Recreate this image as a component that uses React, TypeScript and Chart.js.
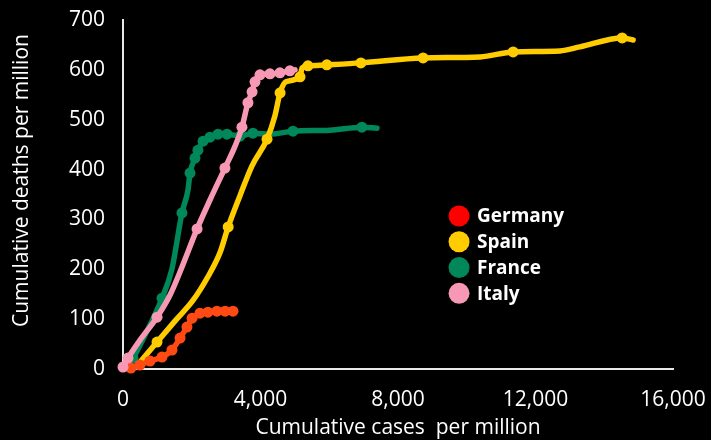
import React, { useEffect, useRef } from "react";
import { Chart, registerables } from "chart.js";

Chart.register(...registerables);

// ---- data (cumulative cases per million -> cumulative deaths per million) ----
const germanyCases = [230, 490, 785, 1135, 1425, 1660, 1860, 2010, 2240, 2470, 2730, 2970, 3200];
const germanyDeaths = [2, 8, 16, 24, 38, 62, 84, 102, 112, 114, 116, 116, 116];
const germanyDots = [0, 1, 2, 3, 4, 5, 6, 7, 8, 9, 10, 11, 12];

const spainCases = [400, 990, 1510, 2040, 2470, 2820, 3060, 3400, 3750, 4190, 4420, 4570, 4740, 5150, 5210, 5380, 5930, 6920, 8730, 10390, 11350, 12710, 13290, 14520, 14840];
const spainDeaths = [6, 54, 96, 138, 185, 233, 285, 347, 407, 461, 508, 554, 576, 586, 604, 608, 610, 614, 624, 626, 636, 638, 646, 664, 660];
const spainDots = [1, 6, 9, 11, 13, 15, 16, 17, 18, 20, 23];

const franceCases = [90, 290, 640, 1135, 1425, 1715, 1890, 1950, 2095, 2180, 2330, 2530, 2765, 3025, 3405, 3780, 4275, 4945, 6020, 6950, 7390];
const franceDeaths = [4, 22, 68, 142, 201, 313, 359, 393, 423, 439, 457, 465, 471, 471, 467, 473, 471, 477, 479, 485, 483];
const franceDots = [1, 3, 5, 7, 8, 9, 10, 11, 12, 13, 14, 15, 17, 19];

const italyCases = [0, 145, 495, 990, 1365, 1660, 2155, 2530, 2965, 3260, 3460, 3635, 3755, 3840, 3985, 4275, 4565, 4855, 5005];
const italyDeaths = [4, 22, 58, 104, 148, 195, 281, 339, 403, 447, 485, 534, 556, 576, 590, 592, 594, 598, 600];
const italyDots = [0, 1, 3, 6, 8, 10, 11, 12, 13, 14, 15, 16, 17];

const countries = ["Germany", "Spain", "France", "Italy"];
const xTickValues = [0, 4000, 8000, 12000, 16000];
const yTitle = "Cumulative deaths per million";
const xTitle = "Cumulative cases  per million";

// ---- styles ----
const lineColors = ["#ff4a14", "#ffcc00", "#00875a", "#f799b4"];
const legendColors = ["#ff0000", "#ffcc00", "#00875a", "#f799b4"];
const drawOrder = [1, 2, 3, 0];
const FONT = "'Open Sans', 'Noto Sans', sans-serif";

export default function App() {
  const ref = useRef<HTMLCanvasElement | null>(null);

  useEffect(() => {
    document.body.style.margin = "0";
    document.body.style.background = "#000";
    if (!ref.current) return;

    const series = [
      [germanyCases, germanyDeaths, germanyDots],
      [spainCases, spainDeaths, spainDots],
      [franceCases, franceDeaths, franceDots],
      [italyCases, italyDeaths, italyDots],
    ] as [number[], number[], number[]][];

    const datasets = series.map(([xs, ys, dots], i) => ({
      label: countries[i],
      data: xs.map((x, j) => ({ x, y: ys[j] })),
      borderColor: lineColors[i],
      backgroundColor: lineColors[i],
      pointBackgroundColor: lineColors[i],
      borderWidth: 5.5,
      borderCapStyle: "round" as const,
      borderJoinStyle: "round" as const,
      pointRadius: (c: any) => (dots.includes(c.dataIndex) ? 5.5 : 0),
      pointHoverRadius: 0,
      pointBorderWidth: 0,
      cubicInterpolationMode: "monotone" as const,
      order: drawOrder[i],
      clip: false as any,
    }));

    const overlay = {
      id: "overlay",
      afterDraw(chart: any) {
        const { ctx, chartArea: a } = chart;
        const w = a.right - a.left;
        const h = a.bottom - a.top;
        ctx.save();
        ctx.fillStyle = "#ffffff";
        ctx.font = `21px ${FONT}`;
        ctx.textAlign = "center";
        ctx.textBaseline = "middle";
        // x-axis title
        ctx.fillText(xTitle, (a.left + a.right) / 2, a.bottom + 59);
        // y-axis title
        ctx.translate(22, a.top + h * 0.46);
        ctx.rotate(-Math.PI / 2);
        ctx.fillText(yTitle, 0, 0);
        ctx.restore();

        // legend
        ctx.save();
        const cx = a.left + w * 0.611;
        const y0 = a.top + h * 0.5616;
        const dy = h * 0.0739;
        ctx.font = `bold 19px ${FONT}`;
        ctx.textAlign = "left";
        ctx.textBaseline = "middle";
        countries.forEach((name, i) => {
          const cy = y0 + dy * i;
          ctx.fillStyle = legendColors[i];
          ctx.beginPath();
          ctx.arc(cx, cy, 10.5, 0, Math.PI * 2);
          ctx.fill();
          ctx.fillStyle = "#ffffff";
          ctx.fillText(name, cx + 18, cy + 1);
        });
        ctx.restore();
      },
    };

    const chart = new Chart(ref.current, {
      type: "line",
      data: { datasets: datasets as any },
      plugins: [overlay],
      options: {
        animation: false,
        responsive: true,
        maintainAspectRatio: false,
        events: [],
        layout: { padding: { top: 20, right: 38, left: 0, bottom: 0 } },
        plugins: {
          legend: { display: false },
          tooltip: { enabled: false },
        },
        scales: {
          x: {
            type: "linear",
            min: 0,
            max: 16000,
            afterBuildTicks: (s: any) => {
              s.ticks = xTickValues.map((v) => ({ value: v }));
            },
            afterFit: (s: any) => {
              s.height = 71;
              s.paddingLeft = 0;
              s.paddingRight = 0;
            },
            grid: { display: false, drawTicks: false },
            border: { display: true, color: "#e8e8e8", width: 2 },
            ticks: {
              color: "#ffffff",
              font: { family: FONT, size: 21 },
              padding: 18,
              maxRotation: 0,
              callback: (v: any) => Number(v).toLocaleString("en-US"),
            },
            title: { display: false, text: xTitle },
          },
          y: {
            type: "linear",
            min: 0,
            max: 700,
            afterFit: (s: any) => {
              s.width = 123;
              s.paddingTop = 0;
              s.paddingBottom = 0;
            },
            grid: { display: false, drawTicks: false },
            border: { display: true, color: "#e8e8e8", width: 2 },
            ticks: {
              stepSize: 100,
              color: "#ffffff",
              font: { family: FONT, size: 21 },
              padding: 18,
            },
            title: { display: false, text: yTitle },
          },
        },
      },
    });

    return () => chart.destroy();
  }, []);

  return (
    <div style={{ position: "fixed", left: 0, top: 0, width: 711, height: 440, background: "#000" }}>
      <canvas ref={ref} />
    </div>
  );
}
